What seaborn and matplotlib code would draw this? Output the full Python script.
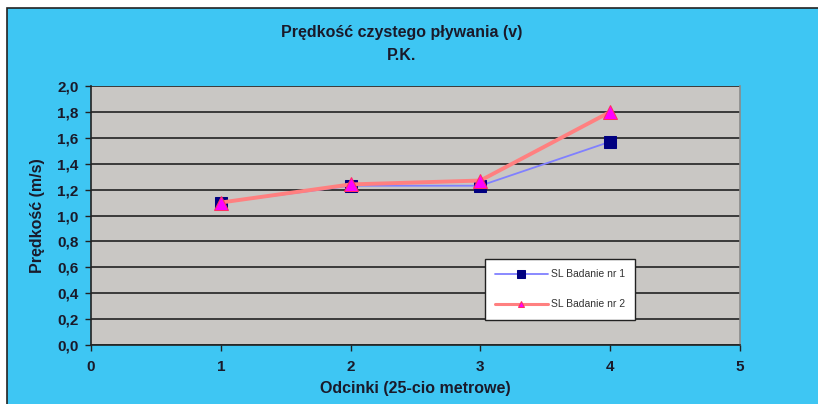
import matplotlib
matplotlib.use("Agg")
import matplotlib.pyplot as plt
from matplotlib.patches import Rectangle
import seaborn as sns
import pandas as pd

# Swimming speed per 25 m segment, two test sessions
odcinki = [1, 2, 3, 4]
badanie_1 = [1.10, 1.23, 1.23, 1.57]
badanie_2 = [1.10, 1.24, 1.27, 1.80]
seria_1 = "SL Badanie nr 1"
seria_2 = "SL Badanie nr 2"
x_ticks = [0, 1, 2, 3, 4, 5]
y_ticks = [0.0, 0.2, 0.4, 0.6, 0.8, 1.0, 1.2, 1.4, 1.6, 1.8, 2.0]

sns.set_theme(style="white")
plt.rcParams["font.family"] = ["Liberation Sans", "DejaVu Sans"]

W, H = 818, 404
fig = plt.figure(figsize=(W / 100, H / 100), dpi=100, facecolor="white")

# chart area background with frame
fig.patches.append(Rectangle((7 / W, -0.05), 1.0, (396 / H) + 0.05,
                             transform=fig.transFigure, facecolor="#3ec6f3",
                             edgecolor="#222222", linewidth=1.2, zorder=-10))

ax = fig.add_axes([91 / W, (H - 345) / H, (740 - 91) / W, (345 - 86) / H])
ax.set_zorder(5)
ax.set_facecolor("#c9c7c4")

df1 = pd.DataFrame({"x": odcinki, "v": badanie_1})
df2 = pd.DataFrame({"x": odcinki, "v": badanie_2})

sns.lineplot(data=df1, x="x", y="v", ax=ax, color="#8080ff", linewidth=1.3,
             marker="s", markersize=8, markerfacecolor="#000080",
             markeredgecolor="#000080", label=seria_1, zorder=3)
sns.lineplot(data=df2, x="x", y="v", ax=ax, color="#ff8080", linewidth=2.8,
             marker="^", markersize=10, markerfacecolor="#ff00ff",
             markeredgecolor="#ff3060", label=seria_2, zorder=4)

ax.set_xlim(0, 5)
ax.set_ylim(0, 2.0)
ax.set_xticks(x_ticks)
ax.set_yticks(y_ticks)
tick_font = dict(fontsize=11, fontweight="bold", color="#1a1a2a")
ax.set_xticklabels([str(t) for t in x_ticks], **tick_font)
ax.set_yticklabels([f"{t:.1f}".replace(".", ",") for t in y_ticks], **tick_font)
ax.tick_params(axis="x", direction="out", length=4, width=1, color="#222222",
               bottom=True, pad=7)
ax.tick_params(axis="y", direction="out", length=4, width=1, color="#222222",
               left=True, pad=5)

ax.yaxis.grid(True, color="#3a3a3a", linewidth=1.4)
ax.set_axisbelow(True)
for side in ["left", "bottom"]:
    ax.spines[side].set_color("#222222")
    ax.spines[side].set_linewidth(1.2)
ax.spines["top"].set_visible(False)
ax.spines["right"].set_color("#8a8a8a")
ax.spines["right"].set_linewidth(1.2)

ax.set_xlabel("Odcinki (25-cio metrowe)", fontsize=11.5, fontweight="bold",
              color="#1a1a2a", labelpad=5)
ax.set_ylabel("Prędkość (m/s)", fontsize=11.5, fontweight="bold", color="#1a1a2a",
              labelpad=9)

fig.text(402 / W, 1 - 33 / H, "Prędkość czystego pływania (v)", ha="center", va="center",
         fontsize=11.5, fontweight="bold", color="#1a1a2a")
fig.text(402 / W, 1 - 56 / H, "P.K.", ha="center", va="center",
         fontsize=11.5, fontweight="bold", color="#1a1a2a")

leg = ax.legend(loc="upper left", bbox_to_anchor=((485 - 91) / (740 - 91), (345 - 259) / (345 - 86)),
                borderaxespad=0, frameon=True, fancybox=False, fontsize=7.5, handlelength=5,
                borderpad=1.0, labelspacing=1.9, handletextpad=0.3)
leg.get_frame().set_facecolor("white")
leg.get_frame().set_edgecolor("#222222")
leg.get_frame().set_linewidth(1.0)
leg.get_frame().set_alpha(1)
for t in leg.get_texts():
    t.set_color("#333333")
for h, ms, lw in zip(leg.legend_handles, [6, 5], [1.3, 2.2]):
    h.set_markersize(ms)
    h.set_linewidth(lw)

fig.savefig("out.png", dpi=100, facecolor=fig.get_facecolor())
